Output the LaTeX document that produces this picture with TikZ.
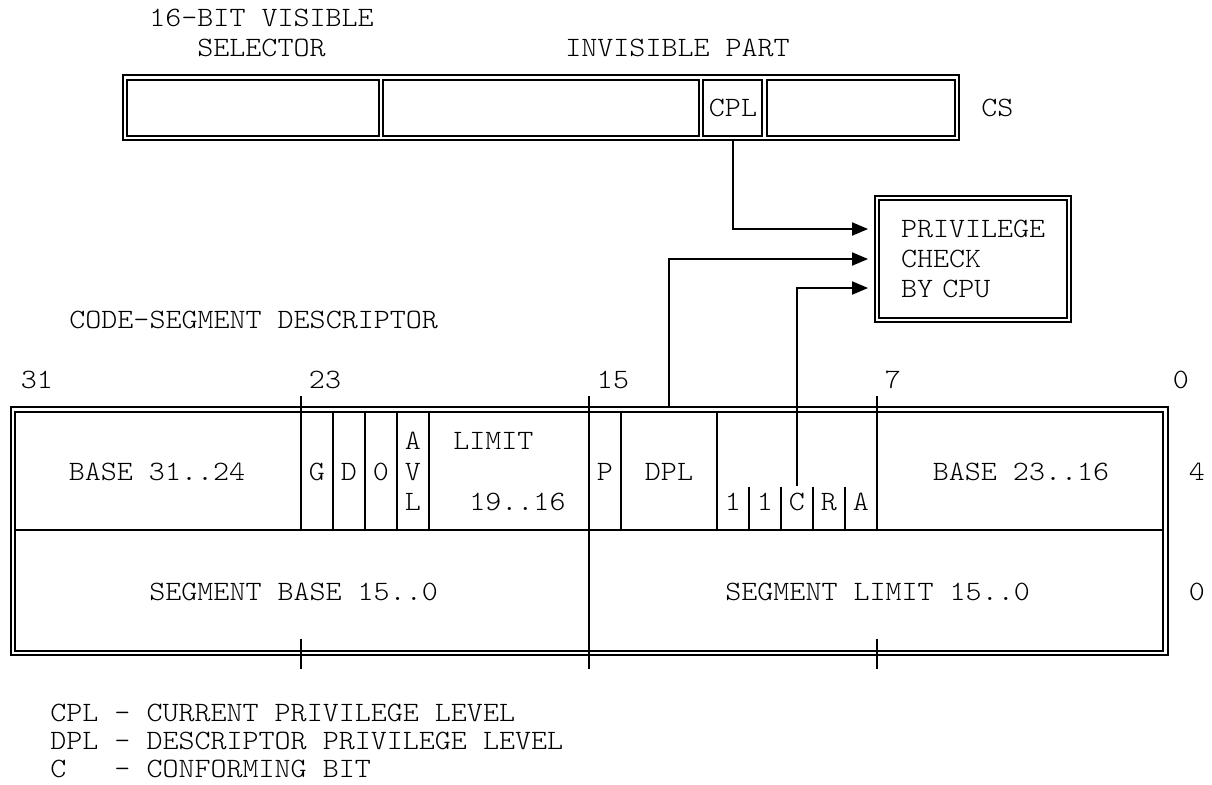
\documentclass[tikz,border=0pt]{standalone}
\usepackage{fontspec}
\newfontfamily\lmlight[FakeStretch=1.09]{Latin Modern Mono Light}
\usetikzlibrary{arrows.meta,positioning}
\tikzset{
  txt/.style    = {font=\fontsize{14}{15}\selectfont\lmlight, inner sep=0pt},
  ln/.style     = {draw=black, line width=0.9pt},
  ar/.style     = {ln, -{Triangle[length=8pt,width=6.5pt]}, shorten >=4pt},
  chkbox/.style = {txt, draw, line width=0.9pt, double, double distance=1.1pt,
                   minimum width=96pt, minimum height=61pt,
                   text width=72pt, align=left},
}
\begin{document}
\begin{tikzpicture}[x=0.5pt,y=-0.5pt]
  \useasboundingbox (0,0) rectangle (1212,784);
  % selector register
  \node[txt, anchor=west] (vis1) at (149,18) {16-BIT VISIBLE};
  \node[txt, anchor=west] (vis2) at (197,48) {SELECTOR};
  \node[txt, anchor=west] (inv) at (565,48) {INVISIBLE PART};
  \draw[ln] (123,75) rectangle (959,140);
  \foreach \a/\b in {127/379, 383/699, 703/762, 767/955}
    \draw[ln] (\a,80) rectangle (\b,136);
  \node[txt] (cpl) at (733,108) {CPL};
  \node[txt, anchor=west] (cs) at (981,108) {CS};
  % privilege check
  \node[chkbox] (chk) at (973,259) {PRIVILEGE\\CHECK\\BY CPU};
  \coordinate (cplbot) at (733,140);
  \coordinate (dpltop) at (669,407);
  \coordinate (ctop) at (797,486);
  \draw[ar] (cplbot) |- ([yshift=15pt]chk.west);
  \draw[ar] (dpltop) |- (chk.west);
  \draw[ar] (ctop) |- ([yshift=-14.5pt]chk.west);
  % descriptor
  \node[txt, anchor=west] (title) at (69,320) {CODE-SEGMENT DESCRIPTOR};
  \node[txt] (b31) at (37,380) {31};
  \node[txt] (b23) at (325,380) {23};
  \node[txt] (b15) at (613,380) {15};
  \node[txt] (b7) at (893,380) {7};
  \node[txt] (b0) at (1181,380) {0};
  \draw[ln] (11,407) rectangle (1168,655);
  \draw[ln] (15,412) rectangle (1163,651);
  \draw[ln] (15,530) -- (1163,530);
  \foreach \x in {333,365,397,429,621,717}
    \draw[ln] (\x,412) -- (\x,530);
  \foreach \x in {749,781,813,845}
    \draw[ln] (\x,487) -- (\x,530);
  \foreach \x in {301,877}
    \draw[ln] (\x,396) -- (\x,530);
  \draw[ln] (589,396) -- (589,669);
  \foreach \x in {301,877}
    \draw[ln] (\x,639) -- (\x,669);
  \node[txt] (bhi) at (157,472) {BASE 31..24};
  \node[txt] (g) at (317,472) {G};
  \node[txt] (d) at (349,472) {D};
  \node[txt] (z) at (381,472) {0};
  \node[txt] (avla) at (413,441) {A};
  \node[txt] (avlv) at (413,472) {V};
  \node[txt] (avll) at (413,502) {L};
  \node[txt, anchor=west] (lim1) at (453,441) {LIMIT};
  \node[txt, anchor=west] (lim2) at (469,502) {19..16};
  \node[txt] (p) at (605,472) {P};
  \node[txt] (dpl) at (669,472) {DPL};
  \foreach \x/\t [count=\i] in {733/1, 765/1, 797/C, 829/R, 861/A}
    \node[txt] (ty\i) at (\x,502) {\t};
  \node[txt] (bmid) at (1021,472) {BASE 23..16};
  \node[txt] (w4) at (1197,472) {4};
  \node[txt, anchor=west] (sbase) at (149,592) {SEGMENT BASE 15..0};
  \node[txt, anchor=west] (slim) at (725,592) {SEGMENT LIMIT 15..0};
  \node[txt] (w0) at (1197,592) {0};
  % legend
  \node[txt, anchor=west] (key1) at (50,713) {CPL - CURRENT PRIVILEGE LEVEL};
  \node[txt, anchor=west] (key2) at (50,741) {DPL - DESCRIPTOR PRIVILEGE LEVEL};
  \node[txt, anchor=west] (key3) at (50,769) {C\hphantom{PL} - CONFORMING BIT};
\end{tikzpicture}
\end{document}
